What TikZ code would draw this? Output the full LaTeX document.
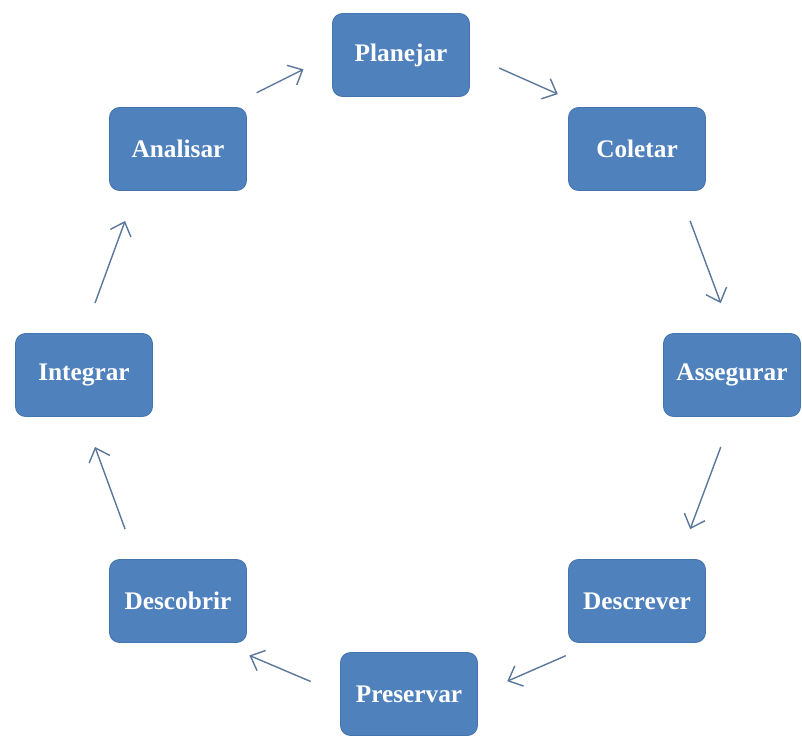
\documentclass[tikz,border=0pt]{standalone}
\usepackage{fontspec}
\setmainfont{Liberation Serif}
\usepackage{tikz}
\usetikzlibrary{arrows.meta}
\definecolor{boxblue}{RGB}{79,129,189}
\definecolor{boxedge}{RGB}{70,116,172}
\definecolor{arrowblue}{RGB}{90,120,155}

\begin{document}
\begin{tikzpicture}[
		etapa/.style={draw=boxedge, fill=boxblue, line width=0.6pt, rounded corners=0.25cm,
			minimum width=3.425cm, minimum height=2.075cm, inner sep=0pt,
			text=white, font=\fontsize{18}{21}\selectfont\bfseries},
		fluxo/.style={-{Straight Barb[length=3mm,width=5.5mm]}, color=arrowblue, line width=1pt,
			shorten <=0.8cm, shorten >=0.8cm}]
		\useasboundingbox (0,0) rectangle (20.05,-18.575);
		\node[etapa] (plan) at (10.025,-1.375) {Planejar};
		\node[etapa] (colet) at (15.925,-3.725) {Coletar};
		\node[etapa] (asseg) at (18.3,-9.375) {Assegurar};
		\node[etapa] (descr) at (15.925,-15.025) {Descrever};
		\node[etapa] (pres) at (10.225,-17.35) {Preservar};
		\node[etapa] (desco) at (4.45,-15.025) {Descobrir};
		\node[etapa] (integ) at (2.1,-9.375) {Integrar};
		\node[etapa] (ana) at (4.45,-3.725) {Analisar};

		\draw[fluxo] (ana.40) -- (plan.west);
		\draw[fluxo] (plan.east) -- (colet.140);
		\draw[fluxo] (colet.-45) -- (asseg.north);
		\draw[fluxo] (asseg.south) -- (descr.45);
		\draw[fluxo] (descr.-135) -- (pres.east);
		\draw[fluxo] (pres.west) -- (desco.-45);
		\draw[fluxo] (desco.135) -- (integ.south);
		\draw[fluxo] (integ.north) -- (ana.-135);
	\end{tikzpicture}
\end{document}
